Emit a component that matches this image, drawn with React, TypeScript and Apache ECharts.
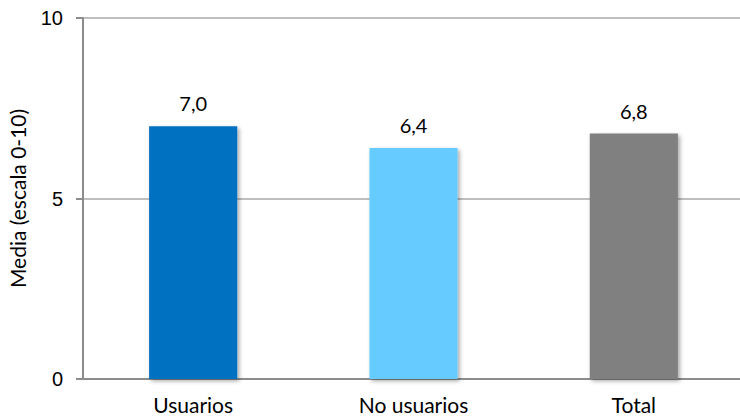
import React, { useEffect, useRef } from "react";
import * as echarts from "echarts";

const categories = ["Usuarios", "No usuarios", "Total"];
const values = [7.0, 6.4, 6.8];
const barColors = ["#0070C0", "#66CCFF", "#808080"];
const yTicks = [0, 5, 10];

export default function App() {
  const ref = useRef<HTMLDivElement>(null);

  useEffect(() => {
    if (!ref.current) return;
    const chart = echarts.init(ref.current, undefined, { renderer: "svg" });
    chart.setOption({
      animation: false,
      grid: { left: 83, right: -4, top: 18, bottom: 39, outerBoundsMode: "none", containLabel: false },
      xAxis: {
        type: "category",
        data: categories,
        axisLine: { show: true, lineStyle: { color: "#8c8c8c", width: 2 } },
        axisTick: { show: false },
        axisLabel: {
          color: "#000",
          fontFamily: "Lato",
          fontSize: 21,
          margin: 15,
        },
      },
      yAxis: {
        type: "value",
        min: yTicks[0],
        max: yTicks[yTicks.length - 1],
        interval: 5,
        name: "Media (escala 0-10)",
        nameLocation: "middle",
        nameGap: 55,
        nameTextStyle: { color: "#000", fontFamily: "Lato", fontSize: 21 },
        axisLine: { show: true, lineStyle: { color: "#8c8c8c", width: 2 } },
        axisTick: { show: true, length: 7, lineStyle: { color: "#8c8c8c", width: 2 } },
        axisLabel: {
          color: "#000",
          fontFamily: "Liberation Sans",
          fontSize: 20,
          margin: 20,
        },
        splitLine: { show: true, lineStyle: { color: "#bfbfbf", width: 2 } },
      },
      series: [
        {
          type: "bar",
          barWidth: "40%",
          data: values.map((v, i) => ({
            value: v,
            itemStyle: {
              color: barColors[i],
              shadowColor: "rgba(0,0,0,0.35)",
              shadowBlur: 4,
              shadowOffsetX: 2,
              shadowOffsetY: 2,
            },
          })),
          label: {
            show: true,
            position: "top",
            distance: 13,
            color: "#000",
            fontFamily: "Lato",
            fontSize: 20,
            formatter: (p: any) => p.value.toFixed(1).replace(".", ","),
          },
        },
      ],
    });
    return () => chart.dispose();
  }, []);

  return (
    <div
      ref={ref}
      style={{ position: "absolute", left: 0, top: 0, width: 740, height: 418 }}
    />
  );
}
